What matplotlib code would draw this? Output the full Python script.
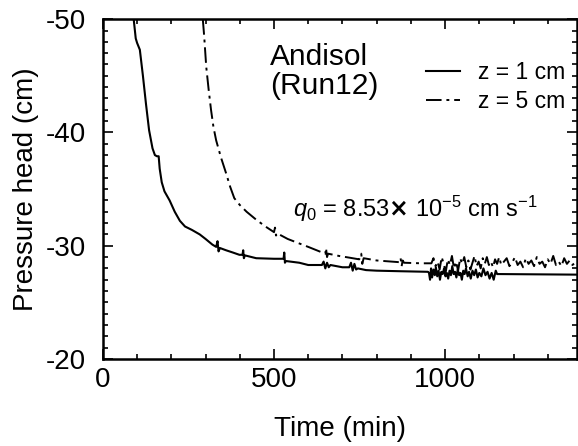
import matplotlib.pyplot as plt

# z = 1 cm (solid)
t1 = [90, 96, 100, 108, 117, 126, 135, 145, 152, 158, 163, 166, 172, 180, 195,
      210, 225, 240, 260, 283, 300, 320, 331, 335, 338, 342, 360, 380, 399, 408,
      410, 412, 415, 448, 500, 528, 530, 532, 535, 574, 600, 640, 645, 650, 655,
      660, 665, 700, 720, 725, 730, 735, 740, 745, 769, 800, 870, 950,
      953, 956, 959, 962, 966, 970, 973, 977, 981, 985, 989, 993, 997, 1001,
      1005, 1009, 1013, 1017, 1021, 1025, 1029, 1033, 1037, 1041, 1045, 1049,
      1053, 1057, 1061, 1066, 1070, 1075, 1080, 1085, 1090, 1095, 1100, 1106,
      1112, 1118, 1124, 1130, 1136, 1142, 1148, 1152, 1160, 1385]
h1 = [-50.0, -48.3, -47.9, -47.3, -45.0, -42.5, -40.2, -38.6, -38.0, -37.9, -37.9,
      -36.8, -35.6, -34.8, -34.0, -33.0, -32.2, -31.7, -31.4, -31.0, -30.6, -30.1,
      -29.9, -30.4, -29.5, -29.8, -29.6, -29.4, -29.2, -29.2, -29.6, -28.9, -29.15,
      -28.9, -28.85, -28.85, -29.4, -28.5, -28.65, -28.5, -28.3, -28.3, -28.6,
      -28.0, -28.5, -28.1, -28.3, -28.1, -28.1, -28.5, -27.8, -28.4, -27.9, -28.0,
      -27.85, -27.8, -27.75, -27.7,
      -27.6, -27.0, -28.0, -27.2, -27.9, -27.4, -28.1, -27.3, -27.8, -27.0, -27.7,
      -27.5, -28.0, -27.3, -27.6, -27.1, -27.8, -27.4, -28.2, -27.5, -27.7, -27.2,
      -27.9, -27.4, -27.6, -27.0, -27.8, -27.5, -28.0, -27.3, -27.7, -27.1, -27.8,
      -27.4, -27.9, -27.2, -27.6, -27.3, -28.0, -27.4, -27.7, -27.1, -27.6, -27.0,
      -27.8, -27.5, -27.5, -27.45]

# z = 5 cm (dash-dot)
t5 = [292, 296, 302, 309, 316, 323, 331, 345, 360, 372, 384, 400, 420, 448, 475,
      500, 503, 506, 509, 540, 574, 600, 633, 650, 652, 655, 658, 690, 720, 749,
      755, 758, 762, 800, 866, 870, 873, 876, 880, 930, 960,
      966, 972, 978, 984, 990, 996, 1002, 1008, 1014, 1020, 1026, 1032, 1038,
      1044, 1050, 1056, 1062, 1068, 1074, 1080, 1086, 1092, 1098, 1104, 1110,
      1116, 1122, 1128, 1134, 1140, 1146, 1152, 1158, 1164, 1172, 1180, 1188,
      1196, 1204, 1212, 1220, 1228, 1236, 1244, 1252, 1260, 1268, 1276, 1284,
      1292, 1300, 1308, 1316, 1324, 1332, 1340, 1348, 1356, 1364, 1372, 1380, 1385]
h5 = [-50.0, -48.5, -45.8, -43.8, -42.0, -40.5, -39.3, -37.8, -36.4, -35.2, -34.2,
      -33.6, -33.0, -32.3, -31.7, -31.2, -31.6, -30.9, -31.1, -30.6, -30.2, -29.9,
      -29.5, -29.3, -29.8, -29.0, -29.3, -29.1, -28.95, -28.8, -29.3, -28.4, -28.9,
      -28.7, -28.55, -28.9, -28.2, -28.7, -28.5, -28.45, -28.45,
      -28.9, -28.2, -28.6, -27.9, -29.0, -28.4, -27.7, -28.8, -28.3, -29.1, -28.0,
      -28.6, -27.8, -28.9, -28.4, -29.0, -28.1, -28.7, -27.9, -28.5, -29.1, -28.2,
      -28.6, -28.0, -28.9, -28.4, -29.0, -28.3, -28.6, -28.1, -28.8, -28.4, -29.0,
      -28.3, -28.6, -28.9, -28.2, -28.5, -29.0, -28.3, -28.6, -28.1, -28.9, -28.4,
      -28.7, -28.2, -29.0, -28.4, -28.6, -28.1, -28.8, -28.4, -29.1, -28.3, -28.6,
      -28.2, -28.9, -28.4, -28.7, -28.3, -28.5, -28.4]

plt.rcParams['font.family'] = ['Liberation Sans', 'DejaVu Sans']
plt.rcParams['axes.unicode_minus'] = False
plt.rcParams['mathtext.fontset'] = 'custom'
plt.rcParams['mathtext.rm'] = 'Liberation Sans'
plt.rcParams['mathtext.it'] = 'Liberation Sans:italic'

fig = plt.figure(figsize=(5.78, 4.46), dpi=100)
ax = fig.add_axes([0.178, 0.195, 0.82, 0.762])

ax.plot(t1, h1, color='black', lw=1.5, label='z = 1 cm')
ax.plot(t5, h5, color='black', lw=1.4, linestyle=(0, (8, 2.5, 1.5, 2.5)),
        label='z = 5 cm')

ax.set_xlim(0, 1385)
ax.set_ylim(-20, -50)
ax.set_xticks([0, 500, 1000])
ax.set_xticks(range(0, 1400, 100), minor=True)
ax.set_yticks([-50, -40, -30, -20])
ax.set_yticks(range(-50, -19), minor=True)

for s in ax.spines.values():
    s.set_linewidth(1.8)
ax.tick_params(which='both', direction='in', top=True, right=True, width=1.2)
ax.tick_params(which='major', length=7.5, labelsize=20)
ax.tick_params(axis='x', which='major', pad=6)
ax.tick_params(axis='y', which='major', pad=12)
ax.tick_params(which='minor', length=3.8)

ax.set_xlabel('Time (min)', fontsize=20, labelpad=16)
ax.set_ylabel('Pressure head (cm)', fontsize=20, labelpad=5)

ax.text(0.352, 0.93, 'Andisol\n(Run12)', transform=ax.transAxes,
        fontsize=21.5, ha='left', va='top', linespacing=1.05)
ax.text(0.66, 0.418, r'$q_0$ = 8.53$\mathbf{\times}$ 10$^{-5}$ cm s$^{-1}$',
        transform=ax.transAxes, fontsize=17, ha='center', va='baseline')

ax.legend(loc='upper right', bbox_to_anchor=(0.995, 0.905), frameon=False,
          fontsize=16.5, handlelength=1.45, handletextpad=0.8,
          labelspacing=0.28, borderaxespad=0)

fig.savefig('out.png', dpi=100)
